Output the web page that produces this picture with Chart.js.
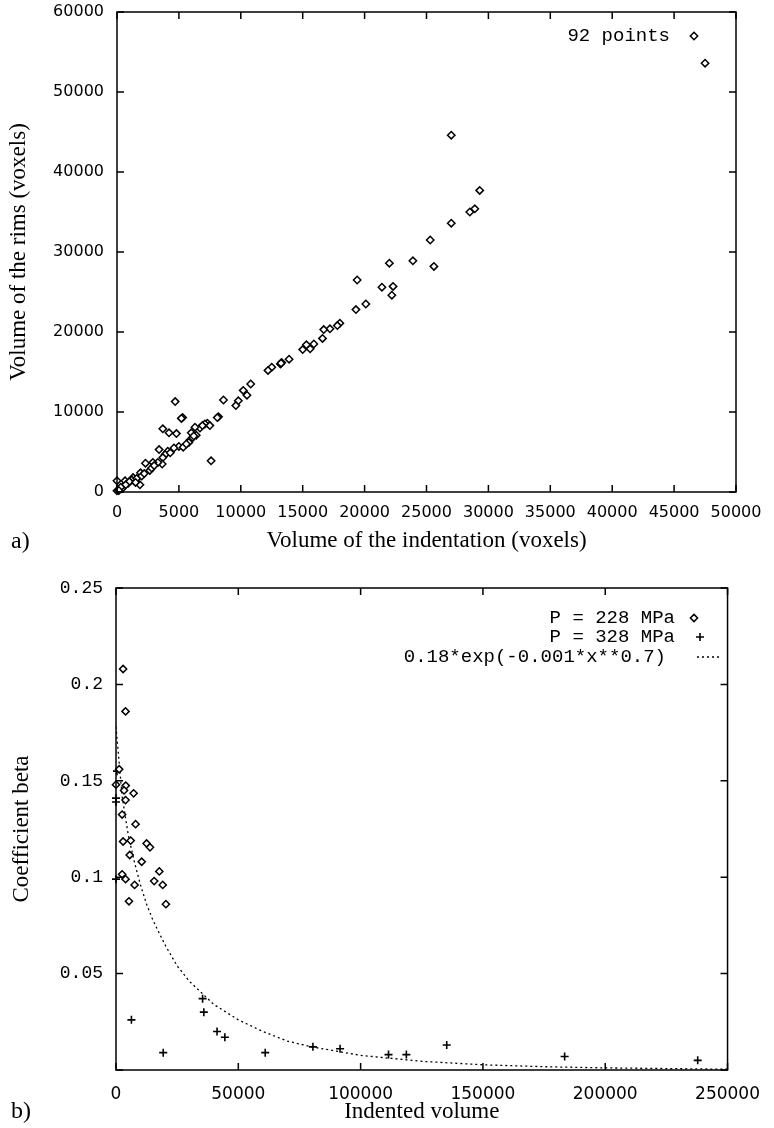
<!DOCTYPE html>
<html>
<head>
<meta charset="utf-8">
<script src="https://cdn.jsdelivr.net/npm/chart.js@4.4.0/dist/chart.umd.min.js"></script>
<style>
  html, body { margin: 0; padding: 0; background: #fff; }
  #page { position: relative; width: 774px; height: 1128px; overflow: hidden; background: #fff; }
  .panel { position: absolute; left: 0; width: 774px; }
  #boxA { top: 0; height: 560px; }
  #boxB { top: 560px; height: 568px; }
  .tag { position: absolute; font-family: "Liberation Serif", serif; font-size: 24px; line-height: 28px; color: #000; }
</style>
</head>
<body>
<div id="page">
  <div class="panel" id="boxA"><canvas id="chartA"></canvas></div>
  <div class="panel" id="boxB"><canvas id="chartB"></canvas></div>
  <div class="tag" style="left:11px; top:526px;">a)</div>
  <div class="tag" style="left:11px; top:1096px;">b)</div>
</div>
<script>
// Panel a: indentation volume vs rim volume (voxels)
const indentVol = [47500, 27000, 29300, 28900, 28500, 27000, 25300, 23900, 22000, 25600,
  19400, 21400, 22300, 22200, 20100, 19300, 18000, 17800, 17200, 16700,
  16600, 15900, 15600, 15300, 15000, 13900, 13300, 13200, 12500, 12200,
  10800, 10200, 10500, 9800, 9600, 8600, 8200, 8100, 7600, 7300,
  7100, 6700, 6300, 6400, 6000, 5900, 5800, 5300, 5200, 4700,
  4800, 4200, 3700, 5000, 5350, 4600, 4100, 3900, 3700, 3650,
  3400, 3300, 2900, 2650, 2800, 2300, 1900, 1850, 1300, 1200,
  900, 650, 500, 0, 0, 6100, 6200, 5600, 1600, 1000,
  700, 400, 300, 150, 2000, 4300, 3000, 7500, 6900, 1500,
  2200, 13250];
const rimVol = [53600, 44600, 37700, 35400, 35000, 33600, 31500, 28900, 28600, 28200,
  26500, 25600, 25700, 24600, 23500, 22800, 21100, 20800, 20400, 20300,
  19200, 18500, 17900, 18400, 17800, 16600, 16200, 16000, 15600, 15200,
  13500, 12700, 12100, 11400, 10800, 11500, 9400, 9300, 3900, 8600,
  8500, 8000, 8100, 7100, 7400, 6500, 6200, 9300, 9200, 11300,
  7300, 7400, 7900, 5700, 5600, 5500, 5100, 4700, 4300, 3500,
  5300, 3700, 3700, 2700, 3000, 3600, 2400, 900, 1800, 1500,
  1100, 1400, 650, 1400, 150, 6800, 7000, 6000, 1700, 1300,
  900, 400, 600, 200, 2000, 4900, 3300, 8300, 8300, 1200,
  2300, 16100];

// Panel b: coefficient beta vs indented volume
const vol228 = [2900, 3900, 1300, 0, 4000, 3300, 7200, 3900, 2500, 8000,
  2900, 6000, 12500, 13900, 5600, 10500, 2500, 3900, 7600, 17700,
  15600, 19100, 5300, 20400];
const beta228 = [0.208, 0.186, 0.156, 0.148, 0.1475, 0.145, 0.1435, 0.140, 0.1325, 0.1275,
  0.1185, 0.119, 0.1175, 0.1155, 0.1115, 0.108, 0.1015, 0.099, 0.096, 0.103,
  0.098, 0.096, 0.0875, 0.086];
const vol328 = [400, 0, 0, 0, 6300, 19300, 35400, 35900, 41300, 44500,
  61000, 80500, 91600, 111400, 118700, 135200, 183400, 237800];
const beta328 = [0.155, 0.141, 0.139, 0.099, 0.026, 0.009, 0.037, 0.030, 0.020, 0.017,
  0.009, 0.012, 0.011, 0.008, 0.008, 0.013, 0.007, 0.005];
// dotted fit curve
const fitVol = [0, 2500, 5000, 7500, 10000, 12500, 15000, 20000, 25000, 30000,
  40000, 50000, 60000, 70000, 80000, 100000, 125000, 150000, 175000, 200000, 250000];
const fitBeta = [0.178, 0.142, 0.122, 0.108, 0.096, 0.086, 0.078, 0.065, 0.054, 0.046,
  0.034, 0.026, 0.020, 0.015, 0.012, 0.0076, 0.0045, 0.0027, 0.0017, 0.0011, 0.0004];

const toPoints = (xs, ys) => xs.map((x, i) => ({ x: x, y: ys[i] }));

// box + inward ticks on all four sides (gnuplot style)
const frame = {
  id: 'frame',
  afterDatasetsDraw(chart) {
    const { ctx, chartArea: a, scales } = chart;
    const len = 7;
    ctx.save();
    ctx.strokeStyle = '#000';
    ctx.lineWidth = 1.5;
    ctx.strokeRect(a.left, a.top, a.right - a.left, a.bottom - a.top);
    ctx.beginPath();
    scales.x.ticks.forEach(t => {
      const px = scales.x.getPixelForValue(t.value);
      ctx.moveTo(px, a.bottom); ctx.lineTo(px, a.bottom - len);
      ctx.moveTo(px, a.top); ctx.lineTo(px, a.top + len);
    });
    scales.y.ticks.forEach(t => {
      const py = scales.y.getPixelForValue(t.value);
      ctx.moveTo(a.left, py); ctx.lineTo(a.left + len, py);
      ctx.moveTo(a.right, py); ctx.lineTo(a.right - len, py);
    });
    ctx.stroke();
    ctx.restore();
  }
};

function drawMark(ctx, style, x, y, r) {
  ctx.beginPath();
  if (style === 'rectRot') {
    ctx.moveTo(x, y - r); ctx.lineTo(x + r, y); ctx.lineTo(x, y + r); ctx.lineTo(x - r, y); ctx.closePath();
    ctx.fillStyle = '#fff';
    ctx.fill();
  } else {
    ctx.moveTo(x - r, y); ctx.lineTo(x + r, y);
    ctx.moveTo(x, y - r); ctx.lineTo(x, y + r);
  }
  ctx.stroke();
}

// key: right-justified text with sample to its right
const key = {
  id: 'key',
  afterDraw(chart, args, opts) {
    const ctx = chart.ctx;
    ctx.save();
    ctx.font = '19px "Liberation Mono", monospace';
    ctx.strokeStyle = '#000';
    ctx.textAlign = 'right';
    ctx.textBaseline = 'middle';
    opts.rows.forEach((row, i) => {
      const ds = chart.data.datasets[i];
      ctx.fillStyle = '#000';
      ctx.fillText(ds.label, row.textRight, row.y);
      ctx.lineWidth = ds.borderWidth;
      if (ds.showLine) {
        ctx.setLineDash(ds.borderDash);
        ctx.beginPath();
        ctx.moveTo(row.x0, row.y); ctx.lineTo(row.x1, row.y);
        ctx.stroke();
        ctx.setLineDash([]);
      } else {
        drawMark(ctx, ds.pointStyle, row.x0, row.y, ds.pointRadius);
      }
    });
    ctx.restore();
  }
};

const plain = v => String(v);

new Chart(document.getElementById('chartA'), {
  type: 'scatter',
  data: {
    datasets: [{
      label: '92 points',
      data: toPoints(indentVol, rimVol),
      pointStyle: 'rectRot',
      pointRadius: 3.7,
      borderColor: '#000',
      backgroundColor: '#fff',
      borderWidth: 1.5,
      clip: false
    }]
  },
  options: {
    responsive: true,
    maintainAspectRatio: false,
    animation: false,
    layout: { padding: { top: 12, right: 38, left: 0, bottom: 0 } },
    plugins: {
      legend: { display: false },
      tooltip: { enabled: false },
      key: { rows: [{ textRight: 670, y: 36, x0: 694 }] }
    },
    scales: {
      x: {
        type: 'linear', min: 0, max: 50000,
        border: { display: false },
        grid: { display: false, drawTicks: false },
        ticks: { stepSize: 5000, padding: 11, autoSkip: false, maxRotation: 0, color: '#000',
          font: { family: 'DejaVu Sans', size: 16 }, callback: plain },
        title: { display: true, text: 'Volume of the indentation (voxels)', color: '#000',
          font: { family: 'Liberation Serif', size: 23, lineHeight: 1 }, padding: { top: 0, bottom: 8 } },
        afterFit: s => { s.height = 68; }
      },
      y: {
        type: 'linear', min: 0, max: 60000,
        border: { display: false },
        grid: { display: false, drawTicks: false },
        ticks: { stepSize: 10000, padding: 13, color: '#000',
          font: { family: 'DejaVu Sans', size: 16 }, callback: plain },
        title: { display: true, text: 'Volume of the rims (voxels)', color: '#000',
          font: { family: 'Liberation Serif', size: 23, lineHeight: 1 }, padding: { top: 7, bottom: 0 } },
        afterFit: s => { s.width = 117; s.paddingTop = 0; }
      }
    }
  },
  plugins: [frame, key]
});

new Chart(document.getElementById('chartB'), {
  type: 'scatter',
  data: {
    datasets: [{
      label: 'P = 228 MPa',
      data: toPoints(vol228, beta228),
      pointStyle: 'rectRot',
      pointRadius: 3.6,
      borderColor: '#000',
      backgroundColor: '#fff',
      borderWidth: 1.5,
      clip: false
    }, {
      label: 'P = 328 MPa',
      data: toPoints(vol328, beta328),
      pointStyle: 'cross',
      pointRadius: 4,
      borderColor: '#000',
      borderWidth: 1.6,
      clip: false
    }, {
      label: '0.18*exp(-0.001*x**0.7)',
      data: toPoints(fitVol, fitBeta),
      showLine: true,
      pointRadius: 0,
      borderColor: '#000',
      borderWidth: 1.3,
      borderDash: [2, 3],
      tension: 0
    }]
  },
  options: {
    responsive: true,
    maintainAspectRatio: false,
    animation: false,
    layout: { padding: { top: 28, right: 35, left: 0, bottom: 0 } },
    plugins: {
      legend: { display: false },
      tooltip: { enabled: false },
      key: { rows: [
        { textRight: 675, y: 58, x0: 694 },
        { textRight: 675, y: 77, x0: 700 },
        { textRight: 666, y: 97, x0: 697, x1: 722 }
      ] }
    },
    scales: {
      x: {
        type: 'linear', min: 0, max: 250000,
        border: { display: false },
        grid: { display: false, drawTicks: false },
        ticks: { stepSize: 50000, padding: 14, autoSkip: false, maxRotation: 0, color: '#000',
          font: { family: 'DejaVu Sans', size: 17 }, callback: plain },
        title: { display: true, text: 'Indented volume', color: '#000',
          font: { family: 'Liberation Serif', size: 23, lineHeight: 1 }, padding: { top: 0, bottom: 5 } },
        afterFit: s => { s.height = 58; }
      },
      y: {
        type: 'linear', min: 0, max: 0.25,
        border: { display: false },
        grid: { display: false, drawTicks: false },
        ticks: { stepSize: 0.05, padding: 13, color: '#000',
          font: { family: 'Liberation Mono', size: 18 },
          callback: v => (v === 0 ? '' : String(Math.round(v * 100) / 100)) },
        title: { display: true, text: 'Coefficient beta', color: '#000',
          font: { family: 'Liberation Serif', size: 23, lineHeight: 1 }, padding: { top: 10, bottom: 0 } },
        afterFit: s => { s.width = 116; }
      }
    }
  },
  plugins: [frame, key]
});
</script>
</body>
</html>
